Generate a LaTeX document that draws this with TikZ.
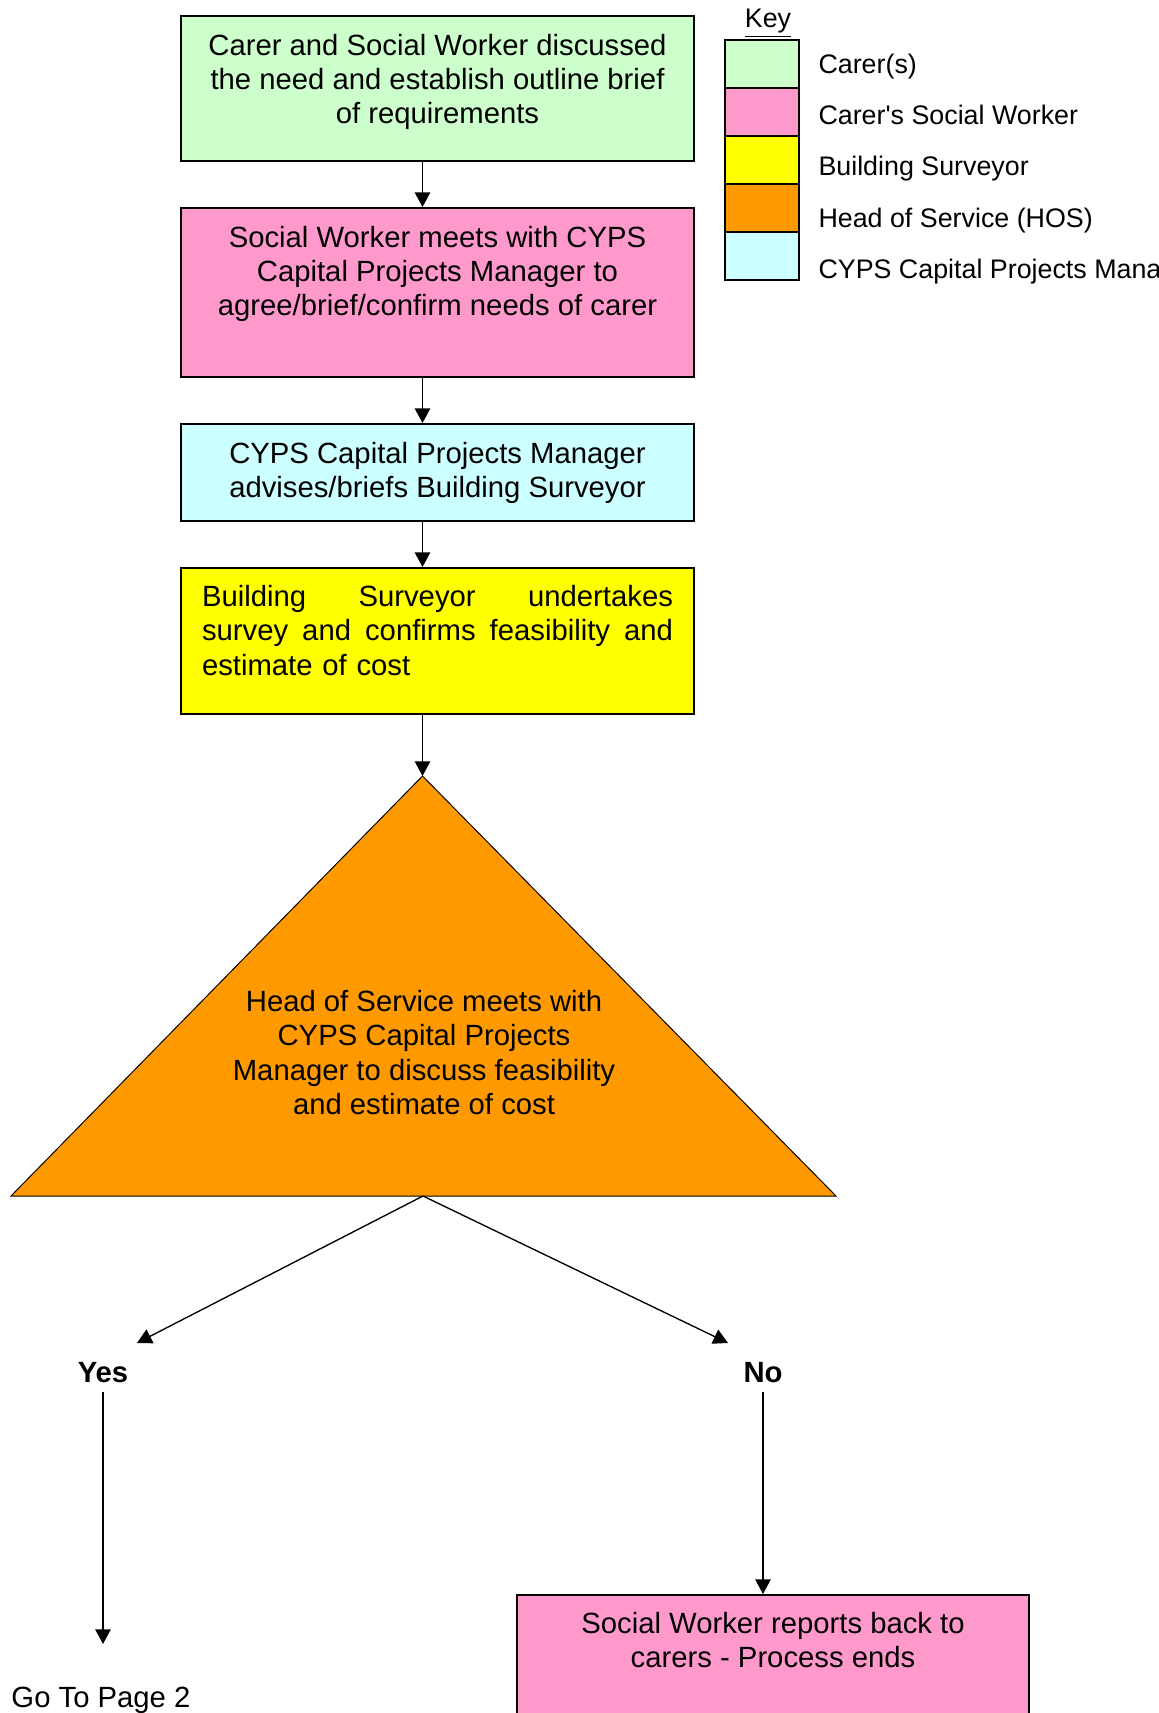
\documentclass[tikz,border=0pt]{standalone}
\usepackage{fontspec}
\newfontfamily\arialfont{Liberation Sans}
\usetikzlibrary{arrows.meta,positioning,fit}

\definecolor{carer}{HTML}{CCFFCC}
\definecolor{socialw}{HTML}{FF99CC}
\definecolor{surveyor}{HTML}{FFFF00}
\definecolor{hos}{HTML}{FF9900}
\definecolor{cyps}{HTML}{CCFFFF}

\tikzset{
  stepbox/.style={draw, line width=0.8pt, inner sep=0pt},
  steptext/.style={inner sep=0pt, align=center},
  keybox/.style={draw, line width=0.8pt, inner sep=0pt},
  keytext/.style={inner sep=0pt, anchor=base west, font=\arialfont\fontsize{11}{13}\selectfont},
  flow/.style={-{Triangle[length=6pt,width=6.3pt]}, line width=0.55pt},
  answer/.style={font=\arialfont\bfseries\fontsize{12}{14.1}\selectfont}
}

\begin{document}
\begin{tikzpicture}[x=0.41pt, y=-0.41pt, font=\arialfont\fontsize{12}{14.1}\selectfont]
  \useasboundingbox (0,0) rectangle (1158,1713);
  \clip (0,0) rectangle (1158,1713);
  \fill[white] (0,0) rectangle (1158,1713);

  % Key
  \node[inner sep=0pt, anchor=base, font=\arialfont\fontsize{11}{13}\selectfont] (key) at (768,27.5) {\underline{Key}};
  \foreach \col/\lab [count=\i from 0] in {carer/Carer(s), socialw/Carer's Social Worker, surveyor/Building Surveyor, hos/Head of Service (HOS), cyps/CYPS Capital Projects Manager}{
    \node[keybox, fill=\col, fit={(725,{40+48*\i}) (799,{88+48*\i})}] (k\i) {};
    \node[keytext] (kl\i) at (818,{73.4+51.3*\i}) {\lab};
  }

  % Steps
  \node[stepbox, fill=carer, fit={(181,16) (694,161)}] (b1) {};
  \node[steptext, below=7.5pt of b1.north] (t1) {Carer and Social Worker discussed\\the need and establish outline brief\\of requirements};

  \node[stepbox, fill=socialw, fit={(181,208) (694,377)}] (b2) {};
  \node[steptext, below=7.5pt of b2.north] (t2) {Social Worker meets with CYPS\\Capital Projects Manager to\\agree/brief/confirm needs of carer};

  \node[stepbox, fill=cyps, fit={(181,424) (694,521)}] (b3) {};
  \node[steptext, below=7.5pt of b3.north] (t3) {CYPS Capital Projects Manager\\advises/briefs Building Surveyor};

  \node[stepbox, fill=surveyor, fit={(181,568) (694,714)}] (b4) {};
  \node[steptext, text width=193.1pt, align=left, below=7.2pt of b4.north] (t4) {\makebox[193.1pt]{Building\hfill Surveyor\hfill undertakes}\\ \makebox[193.1pt]{survey\hfill and\hfill confirms\hfill feasibility\hfill and}\\estimate of cost};

  % Decision
  \coordinate (apex) at (422.5,776);
  \coordinate (baseL) at (11,1196);
  \coordinate (baseR) at (836,1196);
  \coordinate (split) at (423,1196);
  \draw[fill=hos, line width=0.4pt] (apex) -- (baseR) -- (baseL) -- cycle;
  \node[steptext] (tri) at (424,1052.5) {Head of Service meets with\\CYPS Capital Projects\\Manager to discuss feasibility\\and estimate of cost};

  % Outcomes
  \node[answer] (yes) at (103,1373) {Yes};
  \node[answer] (no) at (763,1373) {No};
  \node[inner sep=0pt, anchor=base west] (goto) at (11,1707.5) {Go To Page 2};
  \node[stepbox, fill=socialw, fit={(517,1595) (1029,1780)}] (b5) {};
  \node[steptext, below=7.2pt of b5.north] (t5) {Social Worker reports back to\\carers - Process ends};

  \coordinate (yestip) at (137,1343);
  \coordinate (notip) at (728,1343);
  \coordinate (yesend) at (103,1644);

  % Arrows
  \draw[flow] (b1.south -| apex) -- (b2.north -| apex);
  \draw[flow] (b2.south -| apex) -- (b3.north -| apex);
  \draw[flow] (b3.south -| apex) -- (b4.north -| apex);
  \draw[flow] (b4.south -| apex) -- (apex);
  \draw[flow] (split) -- (yestip);
  \draw[flow] (split) -- (notip);
  \draw[flow] (yes.south) -- (yesend);
  \draw[flow] (no.south) -- (b5.north -| no);
\end{tikzpicture}
\end{document}
